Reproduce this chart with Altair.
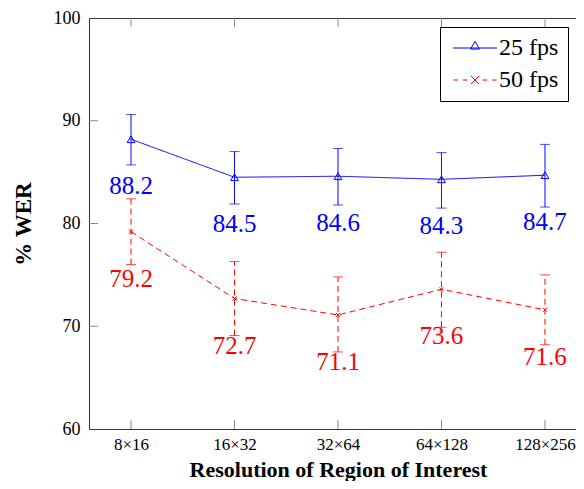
import altair as alt
import pandas as pd

# ---- data ----
x_labels = ["8×16", "16×32", "32×64", "64×128", "128×256"]
series_names = ["25 fps", "50 fps"]
wer_25 = [88.2, 84.5, 84.6, 84.3, 84.7]
lo_25 = [85.7, 81.9, 81.8, 81.5, 81.6]
hi_25 = [90.6, 87.0, 87.3, 86.9, 87.7]
wer_50 = [79.2, 72.7, 71.1, 73.6, 71.6]
lo_50 = [76.0, 69.1, 67.5, 69.9, 68.2]
hi_50 = [82.4, 76.3, 74.8, 77.2, 75.0]
y_ticks = [70, 80, 90]

rows = []
for name, w, lo, hi in [("25 fps", wer_25, lo_25, hi_25), ("50 fps", wer_50, lo_50, hi_50)]:
    for i, lab in enumerate(x_labels):
        rows.append({"series": name, "idx": i, "label": lab, "wer": w[i], "lo": lo[i], "hi": hi[i]})
df = pd.DataFrame(rows)
xdf = pd.DataFrame({"idx": list(range(len(x_labels)))})
ydf = pd.DataFrame({"wer": y_ticks})

W, H = 498, 411
PAD = {"left": 81, "top": 10, "right": -11, "bottom": 52}
FONT = "Liberation Serif"
BLUE, RED = "#0000ff", "#ff0000"
COLORS = {"25 fps": BLUE, "50 fps": RED}
DASH = {"25 fps": [1, 0], "50 fps": [6, 4]}
TICK = "#8a8a8a"

xscale = alt.Scale(domain=[-0.406, 4.406], nice=False, zero=False)
yscale = alt.Scale(domain=[60, 100], nice=False, zero=False)

label_js = "[" + ",".join("'%s'" % s for s in x_labels) + "]"
x_axis = alt.Axis(values=list(range(len(x_labels))), labelExpr=label_js + "[datum.value]",
                  ticks=False, tickSize=0, domain=False, grid=False, labelPadding=7,
                  labelFont=FONT, labelFontSize=17, labelColor="black",
                  titleFont=FONT, titleFontSize=22, titleFontWeight="bold", titleColor="black",
                  titleBaseline="alphabetic", titleY=47)
y_axis = alt.Axis(values=[60, 70, 80, 90, 100], ticks=False, tickSize=0, domain=False, grid=False,
                  labelPadding=9, labelFont=FONT, labelFontSize=18, labelColor="black",
                  titleFont=FONT, titleFontSize=23, titleFontWeight="bold", titleColor="black",
                  titlePadding=18)

XQ = alt.X("idx:Q", scale=xscale, title="Resolution of Region of Interest")
YQ = alt.Y("wer:Q", scale=yscale, title="% WER")

base = alt.Chart(df)
layers = []

for s in series_names:
    sub = base.transform_filter(alt.datum.series == s)
    col, dash = COLORS[s], DASH[s]
    layers.append(sub.mark_line(strokeWidth=1, color=col, strokeDash=dash).encode(x=XQ, y=YQ))
    layers.append(sub.mark_rule(strokeWidth=1, color=col, strokeDash=dash).encode(
        x=XQ, y=alt.Y("lo:Q", scale=yscale, title="% WER"), y2="hi:Q"))
    for f in ["lo", "hi"]:
        layers.append(sub.mark_tick(orient="horizontal", size=10, thickness=1, color=col).encode(
            x=XQ, y=alt.Y(f + ":Q", scale=yscale, title="% WER")))
    layers.append(sub.mark_text(dy=47, fontSize=25, font=FONT, baseline="middle", color=col).encode(
        x=XQ, y=YQ, text=alt.Text("wer:Q", format=".1f")))

layers.append(base.transform_filter(alt.datum.series == "25 fps").mark_point(
    shape="triangle-up", size=60, filled=False, strokeWidth=1, color=BLUE, opacity=1
).encode(x=XQ, y=YQ))
layers.append(base.transform_filter(alt.datum.series == "50 fps").mark_point(
    shape="M-1,-1L1,1M-1,1L1,-1", size=16, filled=False, strokeWidth=1, color=RED, opacity=1
).encode(x=XQ, y=YQ))

# legend carrier (no data drawn; the legend comes from the explicit scale domain)
path25 = "M-2,0L2,0M0,-0.62L0.4,0.1L-0.4,0.1Z"
path50 = ("M-1.95,0L-1.55,0M-1.1,0L-0.7,0M0.7,0L1.1,0M1.55,0L1.95,0"
          "M-0.36,-0.36L0.36,0.36M-0.36,0.36L0.36,-0.36")
leg = alt.Legend(orient="none", legendX=351, legendY=9, title=None, padding=9, rowPadding=8,
                 labelFont=FONT, labelFontSize=24, labelColor="black", symbolSize=484,
                 symbolStrokeWidth=1, symbolOffset=14, labelOffset=12, symbolOpacity=1,
                 strokeColor="black", fillColor="white", cornerRadius=0)
layers.append(base.transform_filter("false").mark_point(
    filled=False, size=484, strokeWidth=1, opacity=1).encode(
    x=XQ, y=YQ,
    color=alt.Color("series:N", scale=alt.Scale(domain=series_names, range=[BLUE, RED]), legend=leg),
    shape=alt.Shape("series:N", scale=alt.Scale(domain=series_names, range=[path25, path50]), legend=leg)))

# inward ticks on all four sides
layers.append(alt.Chart(ydf).mark_rule(color=TICK, strokeWidth=1).encode(
    y=YQ, x=alt.value(0), x2=alt.value(9)))
layers.append(alt.Chart(ydf).mark_rule(color=TICK, strokeWidth=1).encode(
    y=YQ, x=alt.value(W - 9), x2=alt.value(W)))
layers.append(alt.Chart(xdf).mark_rule(color=TICK, strokeWidth=1).encode(
    x=XQ, y=alt.value(H - 9), y2=alt.value(H)))
layers.append(alt.Chart(xdf).mark_rule(color=TICK, strokeWidth=1).encode(
    x=XQ, y=alt.value(0), y2=alt.value(9)))

# the axes are declared once, on the first layer
layers[0] = layers[0].encode(
    x=alt.X("idx:Q", scale=xscale, axis=x_axis, title="Resolution of Region of Interest"),
    y=alt.Y("wer:Q", scale=yscale, axis=y_axis, title="% WER"))

chart = alt.layer(*layers).properties(
    width=W, height=H,
    autosize=alt.AutoSizeParams(type="none"),
    padding=PAD,
).configure_view(stroke="#333333", strokeWidth=1).configure_axis(grid=False, ticks=False, domain=False)

chart.save("out.html", embed_options={"renderer": "svg", "actions": False})
